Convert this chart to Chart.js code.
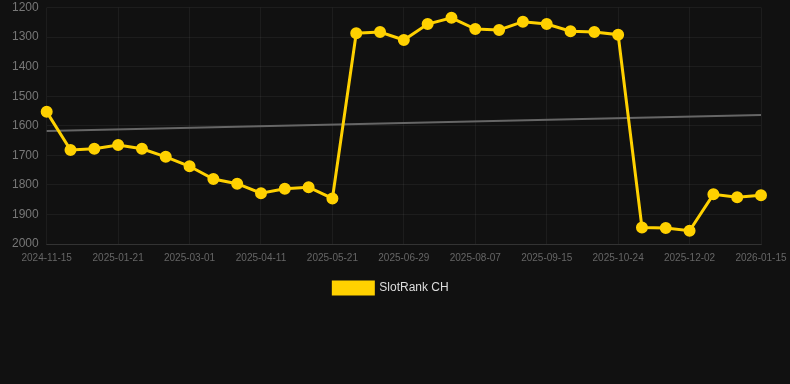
<!DOCTYPE html>
<html>
<head>
<meta charset="utf-8">
<script src="https://cdn.jsdelivr.net/npm/chart.js@4/dist/chart.umd.min.js"></script>
<style>
html,body{margin:0;padding:0;background:#111111;}
#wrap{width:790px;height:384px;}
</style>
</head>
<body>
<div id="wrap"><canvas id="c" width="790" height="384"></canvas></div>
<script>
const labels = [
  "2024-11-15","2024-12-07","2024-12-30","2025-01-21","2025-02-03","2025-02-16",
  "2025-03-01","2025-03-15","2025-03-28","2025-04-11","2025-04-24","2025-05-08",
  "2025-05-21","2025-06-03","2025-06-16","2025-06-29","2025-07-12","2025-07-25",
  "2025-08-07","2025-08-20","2025-09-02","2025-09-15","2025-09-28","2025-10-11",
  "2025-10-24","2025-11-06","2025-11-19","2025-12-02","2025-12-17","2025-12-31",
  "2026-01-15"
];
const slotRankCH = [
  1553,1682,1678,1665,1678,1705,1737,1780,1796,1828,1813,1808,
  1846,1287,1283,1310,1256,1235,1273,1276,1248,1256,1280,1283,
  1292,1944,1946,1955,1832,1842,1835
];
const trendStart = 1618;
const trendEnd = 1564;
const trend = labels.map((_, i) => i === 0 ? trendStart : (i === labels.length - 1 ? trendEnd : null));
const yTicks = [1200,1300,1400,1500,1600,1700,1800,1900,2000];

new Chart(document.getElementById('c'), {
  type: 'line',
  data: {
    labels: labels,
    datasets: [
      {
        label: 'SlotRank CH',
        data: slotRankCH,
        borderColor: '#FFD100',
        backgroundColor: '#FFD100',
        borderWidth: 3,
        pointRadius: 4.5,
        pointHoverRadius: 4.5,
        pointBackgroundColor: '#FFD100',
        pointBorderColor: '#FFD100',
        tension: 0
      },
      {
        label: 'Trend',
        data: trend,
        spanGaps: true,
        borderColor: '#666666',
        backgroundColor: '#666666',
        borderWidth: 2,
        pointRadius: 0,
        tension: 0
      }
    ]
  },
  options: {
    responsive: false,
    animation: false,
    layout: { padding: { left: 4, right: 12, top: 0, bottom: 80 } },
    plugins: {
      legend: {
        position: 'bottom',
        labels: {
          color: '#dddddd',
          font: { family: 'Liberation Sans, Arial, sans-serif', size: 12 },
          boxWidth: 40,
          boxHeight: 12,
          filter: (item) => item.text === 'SlotRank CH'
        }
      },
      tooltip: { enabled: false }
    },
    scales: {
      x: {
        type: 'category',
        offset: false,
        afterFit: (axis) => { axis.paddingRight = 29; },
        grid: { color: 'rgba(255,255,255,0.05)', drawTicks: false },
        border: { color: 'rgba(255,255,255,0.1)' },
        ticks: {
          color: '#666666',
          font: { family: 'Liberation Sans, Arial, sans-serif', size: 10 },
          maxRotation: 0,
          autoSkip: false,
          padding: 8,
          callback: function(val, idx) { return idx % 3 === 0 ? this.getLabelForValue(val) : null; }
        }
      },
      y: {
        reverse: true,
        min: 1200,
        max: 2000,
        afterFit: (axis) => { axis.paddingTop = 5; },
        afterBuildTicks: (axis) => { axis.ticks = yTicks.map(v => ({ value: v })); },
        grid: { color: 'rgba(255,255,255,0.05)', drawTicks: false },
        border: { display: false },
        ticks: {
          color: '#777777',
          font: { family: 'Liberation Sans, Arial, sans-serif', size: 12, lineHeight: 0.01 },
          padding: 8,
          callback: (v) => String(v)
        }
      }
    }
  }
});
</script>
</body>
</html>
